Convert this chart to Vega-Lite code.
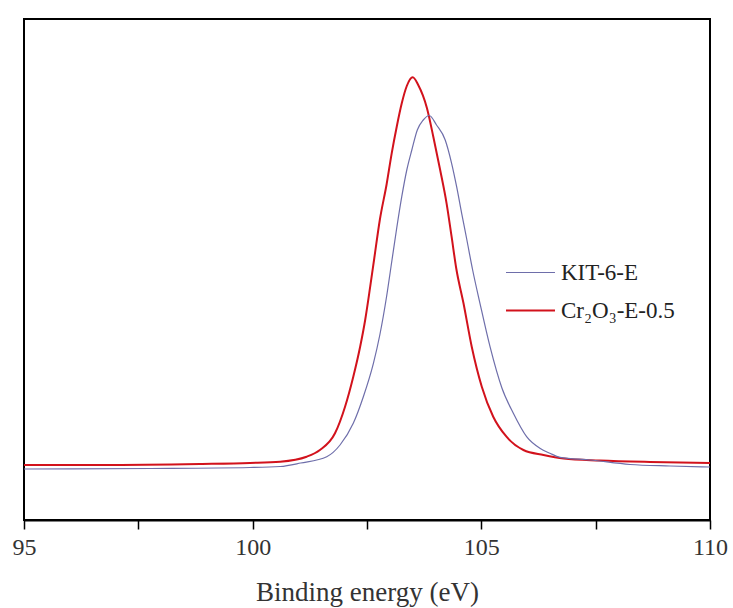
{
  "$schema": "https://vega.github.io/schema/vega-lite/v6.json",
  "width": 686,
  "height": 501,
  "autosize": "none",
  "padding": {"left": 24, "top": 19, "right": 23, "bottom": 88},
  "background": "white",
  "config": {
    "view": {"stroke": "black", "strokeWidth": 2},
    "font": "Times New Roman, Liberation Serif, DejaVu Serif, serif",
    "axis": {
      "labelFont": "Times New Roman, Liberation Serif, DejaVu Serif, serif",
      "titleFont": "Times New Roman, Liberation Serif, DejaVu Serif, serif"
    }
  },
  "data": {
    "values": [
      {"e": 95.00, "i": 55, "s": "Cr₂O₃-E-0.5"},
      {"e": 96.66, "i": 55, "s": "Cr₂O₃-E-0.5"},
      {"e": 98.85, "i": 56, "s": "Cr₂O₃-E-0.5"},
      {"e": 99.94, "i": 57, "s": "Cr₂O₃-E-0.5"},
      {"e": 100.60, "i": 58.3, "s": "Cr₂O₃-E-0.5"},
      {"e": 101.18, "i": 63.3, "s": "Cr₂O₃-E-0.5"},
      {"e": 101.47, "i": 70, "s": "Cr₂O₃-E-0.5"},
      {"e": 101.80, "i": 86.7, "s": "Cr₂O₃-E-0.5"},
      {"e": 102.02, "i": 113.3, "s": "Cr₂O₃-E-0.5"},
      {"e": 102.20, "i": 143.3, "s": "Cr₂O₃-E-0.5"},
      {"e": 102.35, "i": 173.3, "s": "Cr₂O₃-E-0.5"},
      {"e": 102.46, "i": 200, "s": "Cr₂O₃-E-0.5"},
      {"e": 102.57, "i": 233.3, "s": "Cr₂O₃-E-0.5"},
      {"e": 102.66, "i": 262, "s": "Cr₂O₃-E-0.5"},
      {"e": 102.78, "i": 300, "s": "Cr₂O₃-E-0.5"},
      {"e": 102.93, "i": 336, "s": "Cr₂O₃-E-0.5"},
      {"e": 103.04, "i": 366.7, "s": "Cr₂O₃-E-0.5"},
      {"e": 103.15, "i": 393.3, "s": "Cr₂O₃-E-0.5"},
      {"e": 103.26, "i": 416.7, "s": "Cr₂O₃-E-0.5"},
      {"e": 103.37, "i": 434, "s": "Cr₂O₃-E-0.5"},
      {"e": 103.50, "i": 442.7, "s": "Cr₂O₃-E-0.5"},
      {"e": 103.62, "i": 435, "s": "Cr₂O₃-E-0.5"},
      {"e": 103.81, "i": 412, "s": "Cr₂O₃-E-0.5"},
      {"e": 103.95, "i": 383.3, "s": "Cr₂O₃-E-0.5"},
      {"e": 104.10, "i": 350, "s": "Cr₂O₃-E-0.5"},
      {"e": 104.24, "i": 316.7, "s": "Cr₂O₃-E-0.5"},
      {"e": 104.35, "i": 283.3, "s": "Cr₂O₃-E-0.5"},
      {"e": 104.45, "i": 252, "s": "Cr₂O₃-E-0.5"},
      {"e": 104.61, "i": 216.7, "s": "Cr₂O₃-E-0.5"},
      {"e": 104.79, "i": 173.3, "s": "Cr₂O₃-E-0.5"},
      {"e": 105.01, "i": 133.3, "s": "Cr₂O₃-E-0.5"},
      {"e": 105.26, "i": 103.3, "s": "Cr₂O₃-E-0.5"},
      {"e": 105.55, "i": 83.3, "s": "Cr₂O₃-E-0.5"},
      {"e": 105.92, "i": 70, "s": "Cr₂O₃-E-0.5"},
      {"e": 106.36, "i": 65, "s": "Cr₂O₃-E-0.5"},
      {"e": 106.80, "i": 61.5, "s": "Cr₂O₃-E-0.5"},
      {"e": 107.59, "i": 59.5, "s": "Cr₂O₃-E-0.5"},
      {"e": 108.69, "i": 58, "s": "Cr₂O₃-E-0.5"},
      {"e": 110.00, "i": 57, "s": "Cr₂O₃-E-0.5"},
      {"e": 95.00, "i": 51, "s": "KIT-6-E"},
      {"e": 97.76, "i": 51.5, "s": "KIT-6-E"},
      {"e": 99.94, "i": 52.5, "s": "KIT-6-E"},
      {"e": 100.60, "i": 53.5, "s": "KIT-6-E"},
      {"e": 101.05, "i": 57, "s": "KIT-6-E"},
      {"e": 101.62, "i": 63.3, "s": "KIT-6-E"},
      {"e": 101.91, "i": 75, "s": "KIT-6-E"},
      {"e": 102.20, "i": 96.7, "s": "KIT-6-E"},
      {"e": 102.42, "i": 123.3, "s": "KIT-6-E"},
      {"e": 102.64, "i": 156.7, "s": "KIT-6-E"},
      {"e": 102.78, "i": 185, "s": "KIT-6-E"},
      {"e": 102.93, "i": 224, "s": "KIT-6-E"},
      {"e": 103.04, "i": 258, "s": "KIT-6-E"},
      {"e": 103.15, "i": 292, "s": "KIT-6-E"},
      {"e": 103.26, "i": 323.3, "s": "KIT-6-E"},
      {"e": 103.37, "i": 350, "s": "KIT-6-E"},
      {"e": 103.48, "i": 370, "s": "KIT-6-E"},
      {"e": 103.60, "i": 390, "s": "KIT-6-E"},
      {"e": 103.73, "i": 400, "s": "KIT-6-E"},
      {"e": 103.86, "i": 404.5, "s": "KIT-6-E"},
      {"e": 104.02, "i": 395, "s": "KIT-6-E"},
      {"e": 104.21, "i": 380, "s": "KIT-6-E"},
      {"e": 104.35, "i": 356.7, "s": "KIT-6-E"},
      {"e": 104.46, "i": 333.3, "s": "KIT-6-E"},
      {"e": 104.57, "i": 306.7, "s": "KIT-6-E"},
      {"e": 104.68, "i": 281, "s": "KIT-6-E"},
      {"e": 104.81, "i": 250, "s": "KIT-6-E"},
      {"e": 104.97, "i": 216.7, "s": "KIT-6-E"},
      {"e": 105.19, "i": 173.3, "s": "KIT-6-E"},
      {"e": 105.45, "i": 132, "s": "KIT-6-E"},
      {"e": 105.70, "i": 106.7, "s": "KIT-6-E"},
      {"e": 105.99, "i": 83.3, "s": "KIT-6-E"},
      {"e": 106.28, "i": 71.7, "s": "KIT-6-E"},
      {"e": 106.50, "i": 66.7, "s": "KIT-6-E"},
      {"e": 106.72, "i": 62.7, "s": "KIT-6-E"},
      {"e": 107.38, "i": 60, "s": "KIT-6-E"},
      {"e": 108.25, "i": 55.5, "s": "KIT-6-E"},
      {"e": 109.13, "i": 54, "s": "KIT-6-E"},
      {"e": 110.00, "i": 53, "s": "KIT-6-E"}
    ]
  },
  "mark": {"type": "line", "interpolate": "monotone", "clip": true},
  "encoding": {
    "x": {
      "field": "e",
      "type": "quantitative",
      "scale": {"domain": [95, 110], "nice": false, "zero": false},
      "axis": {
        "title": "Binding energy (eV)",
        "values": [95, 97.5, 100, 102.5, 105, 107.5, 110],
        "labelExpr": "datum.value % 5 === 0 ? datum.label : ''",
        "grid": false,
        "domainColor": "black",
        "domainWidth": 2,
        "tickColor": "black",
        "tickWidth": 1.5,
        "tickSize": 9,
        "labelFontSize": 24,
        "labelColor": "#333333",
        "labelPadding": 6,
        "labelFlush": false,
        "labelOverlap": false,
        "titleFontSize": 27,
        "titleFontWeight": "normal",
        "titleColor": "#333333",
        "titlePadding": 20
      }
    },
    "y": {
      "field": "i",
      "type": "quantitative",
      "scale": {"domain": [0, 501], "nice": false, "zero": false},
      "axis": null
    },
    "color": {
      "field": "s",
      "type": "nominal",
      "scale": {"domain": ["KIT-6-E", "Cr₂O₃-E-0.5"], "range": ["#6e6eaa", "#d2121c"]},
      "legend": {
        "title": null,
        "orient": "none",
        "legendX": 481,
        "legendY": 228,
        "symbolType": "stroke",
        "symbolSize": 2400,
        "symbolStrokeWidth": 1.5,
        "rowPadding": -12,
        "labelOffset": 5,
        "labelFont": "Times New Roman, Liberation Serif, DejaVu Serif, serif",
        "labelFontSize": 23,
        "labelColor": "#222222"
      }
    },
    "strokeWidth": {
      "field": "s",
      "type": "nominal",
      "scale": {"domain": ["KIT-6-E", "Cr₂O₃-E-0.5"], "range": [1.2, 2]},
      "legend": null
    }
  }
}
